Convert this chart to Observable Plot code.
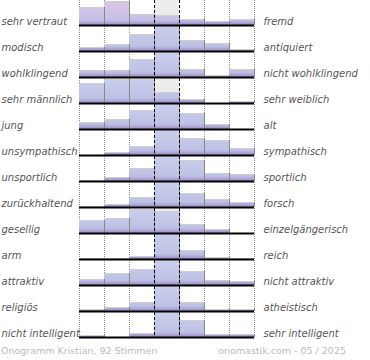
<!DOCTYPE html>
<html><head><meta charset="utf-8">
<script src="https://cdn.jsdelivr.net/npm/d3@7"></script>
<script src="https://cdn.jsdelivr.net/npm/@observablehq/plot@0.6"></script>
<style>
body{margin:0;background:#fff;}
#wrap{position:relative;width:370px;height:360px;overflow:hidden;}
.foot{position:absolute;top:345px;font-family:"DejaVu Sans";font-size:9.5px;color:#bbb;white-space:nowrap;line-height:12px}
</style></head><body>
<div id="wrap"><div id="chart"></div>
<div class="foot" style="left:1px">Onogramm Kristian, 92 Stimmen</div>
<div class="foot" style="right:24px">onomastik.com - 05 / 2025</div></div>
<script>
const leftLabels = ["sehr vertraut","modisch","wohlklingend","sehr männlich","jung","unsympathisch","unsportlich","zurückhaltend","gesellig","arm","attraktiv","religiös","nicht intelligent"];
const rightLabels = ["fremd","antiquiert","nicht wohlklingend","sehr weiblich","alt","sympathisch","sportlich","forsch","einzelgängerisch","reich","nicht attraktiv","atheistisch","sehr intelligent"];
const columns = [-3,-2,-1,0,1,2,3];
const row01 = [18,24,11,10,6,4,6];
const row02 = [4,7,17,40,11,8,2];
const row03 = [7,7,18,38,8,2,8];
const row04 = [20,24,24,11,4,0,2];
const row05 = [7,10,19,35,16,5,0];
const row06 = [0,3,9,40,17,15,7];
const row07 = [1,4,13,38,21,8,7];
const row08 = [1,3,10,45,14,8,5];
const row09 = [13,15,24,22,9,4,0];
const row10 = [1,1,3,60,9,2,1];
const row11 = [6,12,16,33,14,5,4];
const row12 = [2,4,9,55,9,2,2];
const row13 = [2,0,4,50,17,3,3];
const values = [row01,row02,row03,row04,row05,row06,row07,row08,row09,row10,row11,row12,row13];
const highlightRow = 0;
const cap = 25;

const rowsIdx = leftLabels.map((_, i) => i);
const mid = columns.indexOf(0);
const bars = values.flatMap((vals, r) => vals.map((v, c) => ({row: r, col: c, v})));

const plot = Plot.plot({
  width: 370, height: 342,
  marginLeft: 79, marginRight: 116, marginTop: 0, marginBottom: 4,
  x: {domain: [0, columns.length], axis: null},
  y: {domain: [0, cap], range: [25, 0], clamp: true, axis: null},
  fy: {domain: rowsIdx, padding: 0, axis: null},
  style: {fontFamily: "DejaVu Sans", overflow: "visible"},
  marks: [
    Plot.rect(rowsIdx, {fy: d => d, x1: mid, x2: mid + 1, y1: 0, y2: cap, fill: "#ececec"}),
    Plot.ruleX(d3.range(columns.length + 1).filter(i => i !== mid && i !== mid + 1), {stroke: "#8c8c8c", strokeDasharray: "1,1"}),
    Plot.rect(bars.filter(d => d.row !== highlightRow), {fy: "row", x1: "col", x2: d => d.col + 1, y1: 0, y2: "v", fill: "url(#gBlue)"}),
    Plot.rect(bars.filter(d => d.row === highlightRow), {fy: "row", x1: "col", x2: d => d.col + 1, y1: 0, y2: "v", fill: "url(#gPink)"}),
    Plot.ruleY(bars.filter(d => d.v > 0 && d.v < cap), {fy: "row", x1: "col", x2: d => d.col + 1, y: "v", stroke: "#cfcfcf"}),
    Plot.ruleX(bars.filter(d => d.v > 0), {fy: "row", x: d => d.col + 1, y1: 0, y2: "v", stroke: "#888"}),
    Plot.ruleY([0], {stroke: "#000", strokeWidth: 2}),
    Plot.ruleX([mid, mid + 1], {stroke: "#000", strokeDasharray: "3,2"}),
    Plot.text(rowsIdx, {fy: d => d, y: 1, text: d => leftLabels[d], frameAnchor: "left", dx: -78, textAnchor: "start", lineAnchor: "bottom", fontSize: 10, fontStyle: "italic", fill: "#555"}),
    Plot.text(rowsIdx, {fy: d => d, y: 1, x: columns.length, text: d => rightLabels[d], dx: 9, textAnchor: "start", lineAnchor: "bottom", fontSize: 10, fontStyle: "italic", fill: "#555"})
  ]
});

const svg = d3.select(plot);
const defs = svg.insert("defs", ":first-child");
function grad(id, stops) {
  const g = defs.append("linearGradient").attr("id", id).attr("gradientUnits", "userSpaceOnUse")
    .attr("x1", 0).attr("y1", 0).attr("x2", 0).attr("y2", 25);
  stops.forEach(([o, c]) => g.append("stop").attr("offset", o).attr("stop-color", c));
}
grad("gBlue", [[0, "#cacfec"], [0.8, "#bdc2e5"], [0.88, "#b3aedb"], [1, "#9a88c4"]]);
grad("gPink", [[0, "#dcc3e4"], [0.45, "#d2c4e6"], [0.8, "#c3c2e6"], [0.88, "#b3aedb"], [1, "#9a88c4"]]);
document.getElementById("chart").appendChild(plot);
</script>
</body></html>
